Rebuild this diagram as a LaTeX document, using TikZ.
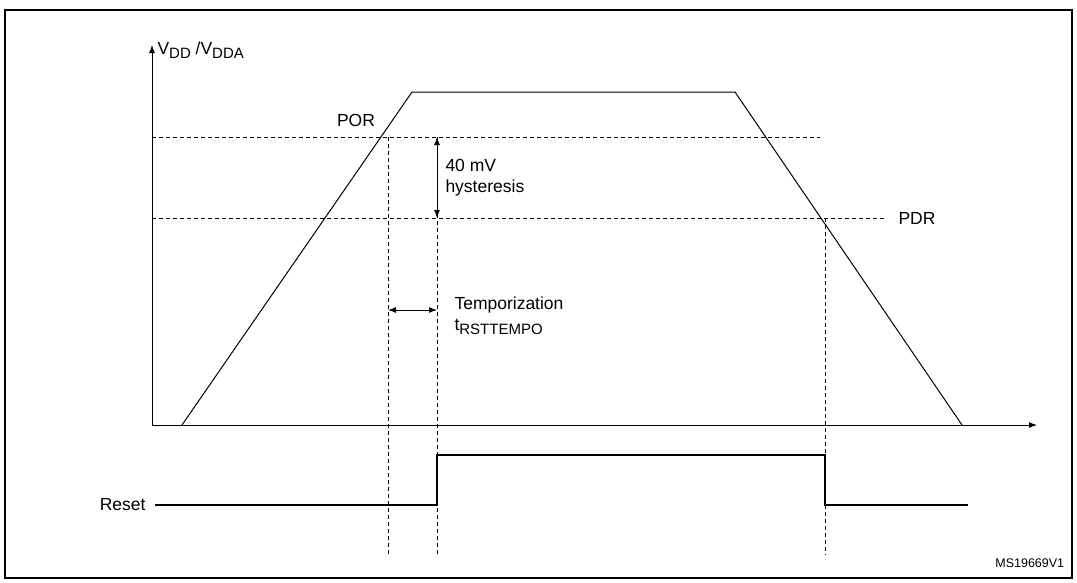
\documentclass[tikz,border=0pt]{standalone}
\usepackage{fontspec}
\setmainfont{Liberation Sans}
\usetikzlibrary{positioning,calc,arrows.meta}
\newcommand{\lowsub}[1]{\raisebox{-0.45ex}{\fontsize{15}{17}\selectfont #1}}

\begin{document}
\begin{tikzpicture}[x=1pt,y=-1pt,line width=1pt,
    >={Latex[length=8pt,width=6pt]},
    txt/.style={font=\fontsize{17.5}{21}\selectfont,inner sep=1pt},
    lvl/.style={dash pattern=on 4pt off 3pt,line width=0.8pt},
    sig/.style={line width=2pt}]
    % Bounding box and frame
    \useasboundingbox (0,0) rectangle (1077,582);
    \draw[line width=1.6pt] (5,10) rectangle (1072,578);

    % Axes
    \coordinate (o) at (152,425);
    \draw[->] (o) -- (152,45) coordinate (ytop);
    \draw[->] (o) -- (1037,425);
    \node[txt,anchor=south west] (vdd) at (156,60) {V\lowsub{DD} /V\lowsub{DDA}};

    % Supply ramp
    \draw (182,425) -- (412,92) -- (735,92) -- (962,425);

    % Thresholds
    \draw[lvl] (152,137) -- (820,137);
    \draw[lvl] (152,218) -- (885,218);
    \node[txt,anchor=south] (por) at (356,128) {POR};
    \node[txt,anchor=west] (pdr) at (897,218) {PDR};

    % Hysteresis
    \coordinate (hA) at (437,137);
    \coordinate (hB) at (437,218);
    \draw[<->] (hA) -- (hB);
    \node[txt,anchor=west,align=left] (hyst) at (444,178) {40 mV\\hysteresis};

    % Temporization
    \coordinate (tA) at (388,310);
    \coordinate (tB) at (437,310);
    \draw[<->] (tA) -- (tB);
    \node[txt,anchor=west,align=left] (tempo) at (453,316) {Temporization\\t\lowsub{RSTTEMPO}};

    % Vertical markers
    \draw[lvl] (388,137) -- (388,555);
    \draw[lvl] (437,137) -- (437,555);
    \draw[lvl] (825,218) -- (825,555);

    % Reset signal
    \node[txt,anchor=east] (rst) at (147,505) {Reset};
    \draw[sig] (155,505) -- (437,505) -- (437,455) -- (825,455) -- (825,505) -- (968,505);

    \node[font=\fontsize{12.5}{14}\selectfont,anchor=east] (ref) at (1068,563) {MS19669V1};
\end{tikzpicture}
\end{document}
